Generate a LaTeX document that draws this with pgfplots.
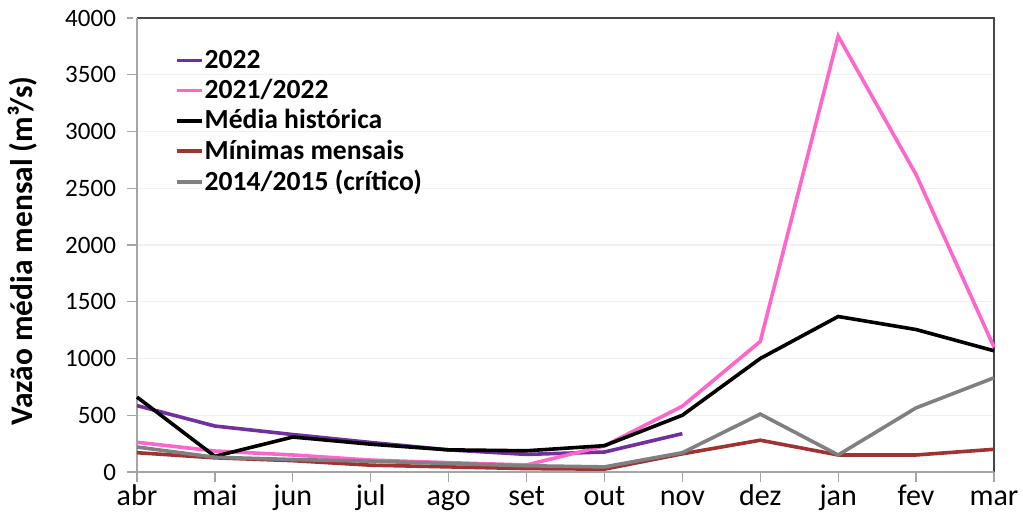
\documentclass[border=0pt]{standalone}
\usepackage{pgfplots}
\pgfplotsset{compat=1.18}
\usepackage{fontspec}
\setmainfont{Carlito}
\definecolor{c2022}{RGB}{112,48,160}
\definecolor{c2122}{RGB}{255,102,204}
\definecolor{cmin}{RGB}{160,50,50}
\definecolor{c1415}{RGB}{128,128,128}
\definecolor{axgray}{RGB}{165,165,165}
\definecolor{boxgray}{RGB}{70,70,70}
\begin{document}
\begin{tikzpicture}
\begin{axis}[
  scale only axis,
  width=428.5pt, height=227pt,
  xmin=0, xmax=11, ymin=0, ymax=4000,
  xtick={0,...,11},
  xticklabels={abr,mai,jun,jul,ago,set,out,nov,dez,jan,fev,mar},
  ytick={0,500,...,4000},
  xtick pos=bottom, ytick pos=left,
  /pgf/number format/assume math mode=true,
  /pgf/number format/1000 sep={},
  yticklabel style={font=\fontsize{12.5}{14}\selectfont, xshift=-2pt},
  xticklabel style={font=\fontsize{15}{17}\selectfont, yshift=-1pt,
    text height=0.72em, text depth=0.22em},
  ymajorgrids, grid style={gray!12, line width=0.6pt},
  axis line style={draw=none},
  tick style={axgray, line width=0.6pt},
  xtick align=outside, ytick align=outside,
  major tick length=5pt,
  y tick style={shorten >=2pt},
  ylabel={\bfseries Vazão média mensal (m³/s)},
  ylabel style={font=\fontsize{15.7}{17}\selectfont, yshift=7pt, xshift=-3pt},
  legend style={draw=none, fill=none, at={(0.044,0.939)}, anchor=north west,
    font=\fontsize{13.8}{15.5}\selectfont\bfseries, row sep=0pt,
    legend cell align=left, inner xsep=0pt, inner ysep=0pt,
    nodes={inner xsep=0.5pt}},
  legend image code/.code={\draw[#1] (0pt,0pt) -- (12.5pt,0pt);},
  every axis plot/.append style={line width=1.8pt, no markers},
  clip=false,
]
\draw[boxgray, line width=0.7pt] (rel axis cs:0,1) -- (rel axis cs:1,1) -- (rel axis cs:1,0);
\draw[axgray, line width=0.7pt] (rel axis cs:0,1) -- (rel axis cs:0,0) -- (rel axis cs:1,0);
\coordinate (sw) at (rel axis cs:0,0);
\addplot[c2022] coordinates {(0,585) (1,405) (2,330) (3,260) (4,195) (5,155) (6,176) (7,338)};
\addlegendentry{2022}
\addplot[c2122] coordinates {(0,262) (1,185) (2,150) (3,105) (4,82) (5,62) (6,230) (7,580) (8,1150) (9,3840) (10,2620) (11,1100)};
\addlegendentry{2021/2022}
\addplot[black] coordinates {(0,660) (1,138) (2,308) (3,245) (4,195) (5,187) (6,232) (7,500) (8,1000) (9,1370) (10,1255) (11,1068)};
\addlegendentry{Média histórica}
\addplot[cmin] coordinates {(0,170) (1,125) (2,100) (3,60) (4,45) (5,30) (6,25) (7,160) (8,280) (9,150) (10,150) (11,200)};
\addlegendentry{Mínimas mensais}
\addplot[c1415] coordinates {(0,220) (1,130) (2,110) (3,95) (4,75) (5,55) (6,45) (7,170) (8,510) (9,150) (10,565) (11,830)};
\addlegendentry{2014/2015 (crítico)}
\end{axis}
\pgfresetboundingbox
\useasboundingbox ([xshift=-68.5pt,yshift=-23.5pt]sw) rectangle ++(511.5pt,259.5pt);
\end{tikzpicture}
\end{document}
